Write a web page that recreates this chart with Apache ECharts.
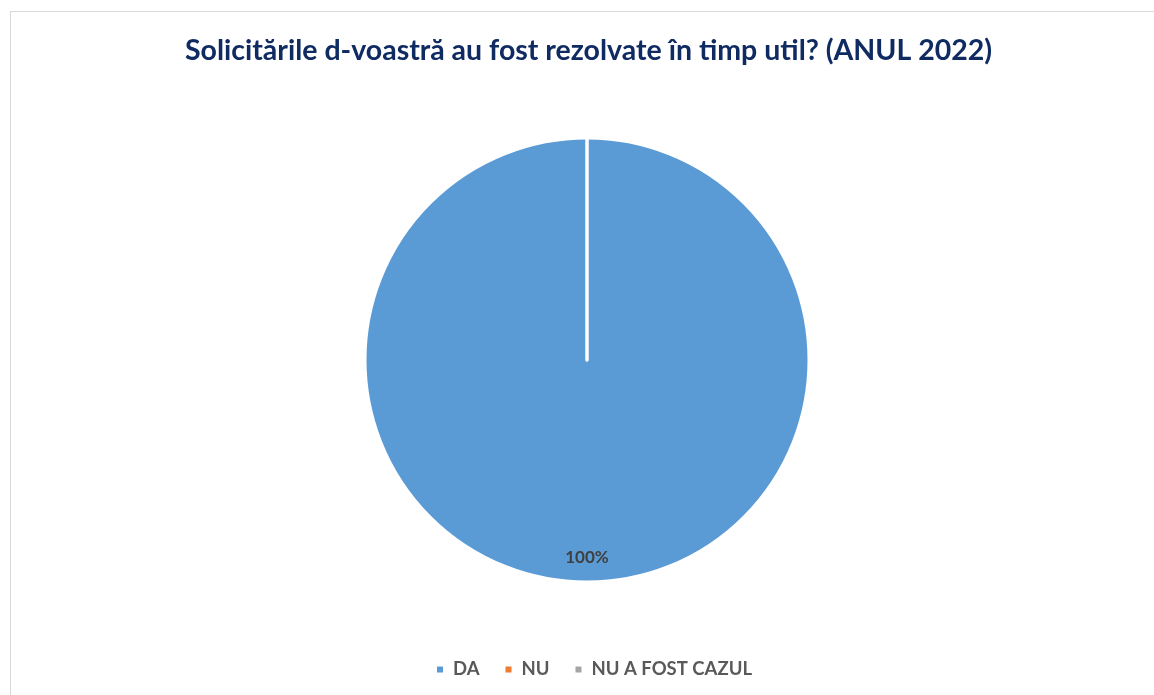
<!DOCTYPE html>
<html>
<head>
<meta charset="utf-8">
<script src="https://cdn.jsdelivr.net/npm/echarts@6/dist/echarts.min.js"></script>
<style>
  html, body { margin: 0; padding: 0; background: #fff; }
  #frame { position: absolute; left: 10px; top: 11px; width: 1200px; height: 740px; border: 1px solid #d9d9d9; box-sizing: border-box; }
  #chart { position: absolute; left: 0; top: 0; width: 1154px; height: 695px; }
</style>
</head>
<body>
<div id="frame"></div>
<div id="chart"></div>
<script>
const titleText = 'Solicitările d-voastră au fost rezolvate în timp util? (ANUL 2022)';
const categories = ['DA', 'NU', 'NU A FOST CAZUL'];
const values = [100, 0, 0];
const colors = ['#5b9bd5', '#ed7d31', '#a5a5a5'];

const chart = echarts.init(document.getElementById('chart'));
chart.setOption({
  animation: false,
  title: {
    text: titleText,
    left: 180,
    top: 31,
    textStyle: { fontFamily: 'Lato', fontWeight: 'bold', fontSize: 28.5, color: '#0f2b62' }
  },
  legend: {
    bottom: 11,
    left: 430,
    icon: 'rect',
    itemWidth: 8,
    itemHeight: 8,
    itemGap: 24,
    data: categories,
    textStyle: { fontFamily: 'Lato', fontWeight: 'bold', fontSize: 18.5, color: '#595959', padding: [0, 0, 0, 4] }
  },
  series: [{
    type: 'pie',
    center: [587, 360],
    radius: 222,
    startAngle: 90,
    clockwise: true,
    avoidLabelOverlap: false,
    itemStyle: { borderColor: '#fff', borderWidth: 3 },
    label: {
      show: true,
      position: 'inside',
      formatter: '{d}%',
      fontFamily: 'Lato',
      fontWeight: 'bold',
      fontSize: 17,
      color: '#404040'
    },
    labelLayout: { dy: 84 },
    emphasis: { disabled: true },
    data: categories.map((name, i) => ({
      name: name,
      value: values[i],
      itemStyle: { color: colors[i] },
      label: { show: values[i] > 0 }
    }))
  }]
});
</script>
</body>
</html>
